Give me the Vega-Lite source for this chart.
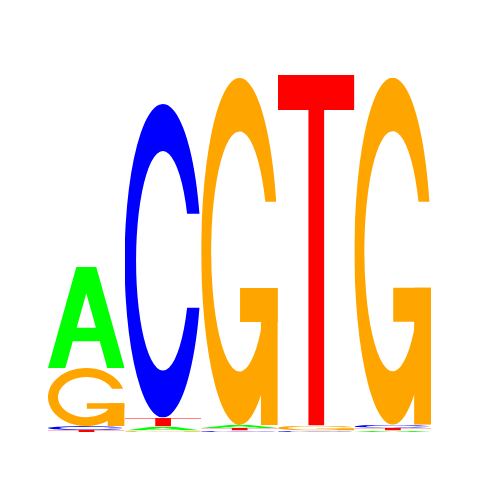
{
  "$schema": "https://vega.github.io/schema/vega-lite/v6.json",
  "description": "Sequence logo, five positions, letters stacked by information content.",
  "width": 383,
  "height": 360,
  "autosize": "none",
  "padding": {"left": 48, "top": 72, "right": 49, "bottom": 48},
  "config": {"view": {"stroke": null}},
  "data": {
    "values": [
      {"pos": 1, "letter": "T", "bits": 0.011},
      {"pos": 1, "letter": "C", "bits": 0.022},
      {"pos": 1, "letter": "G", "bits": 0.322},
      {"pos": 1, "letter": "A", "bits": 0.561},
      {"pos": 2, "letter": "G", "bits": 0.008},
      {"pos": 2, "letter": "A", "bits": 0.022},
      {"pos": 2, "letter": "T", "bits": 0.05},
      {"pos": 2, "letter": "C", "bits": 1.742},
      {"pos": 3, "letter": "C", "bits": 0.008},
      {"pos": 3, "letter": "T", "bits": 0.014},
      {"pos": 3, "letter": "A", "bits": 0.017},
      {"pos": 3, "letter": "G", "bits": 1.928},
      {"pos": 4, "letter": "C", "bits": 0.008},
      {"pos": 4, "letter": "G", "bits": 0.028},
      {"pos": 4, "letter": "T", "bits": 1.947},
      {"pos": 5, "letter": "A", "bits": 0.008},
      {"pos": 5, "letter": "T", "bits": 0.015},
      {"pos": 5, "letter": "C", "bits": 0.017},
      {"pos": 5, "letter": "G", "bits": 1.928}
    ]
  },
  "transform": [
    {
      "stack": "bits",
      "groupby": ["pos"],
      "sort": [{"field": "bits", "order": "ascending"}],
      "as": ["y0", "y1"]
    }
  ],
  "encoding": {
    "x": {
      "field": "pos",
      "type": "ordinal",
      "scale": {"type": "band", "paddingInner": 0, "paddingOuter": 0},
      "axis": null
    },
    "y": {
      "field": "y0",
      "type": "quantitative",
      "scale": {"domain": [0, 2]},
      "axis": null
    },
    "y2": {"field": "y1"}
  },
  "layer": [
    {
      "transform": [{"filter": "datum.letter === 'A'"}],
      "mark": {
        "type": "image",
        "aspect": false,
        "url": "data:image/svg+xml;utf8,<svg xmlns='http://www.w3.org/2000/svg' viewBox='0 0 100 100' preserveAspectRatio='none'><path fill='%2300FF00' fill-rule='evenodd' d='M0,100L37,0H63L100,100H77.4L67.6,73.5H32.4L22.6,100Z M50,26L62.6,60H37.4Z'/></svg>"
      }
    },
    {
      "transform": [{"filter": "datum.letter === 'C'"}],
      "mark": {
        "type": "image",
        "aspect": false,
        "url": "data:image/svg+xml;utf8,<svg xmlns='http://www.w3.org/2000/svg' viewBox='0 0 100 100' preserveAspectRatio='none'><path fill='%230000FF' d='M97.7,35A50,50 0 1 0 97.7,65L81.6,65A35,35 0 1 1 81.6,35Z'/></svg>"
      }
    },
    {
      "transform": [{"filter": "datum.letter === 'G'"}],
      "mark": {
        "type": "image",
        "aspect": false,
        "url": "data:image/svg+xml;utf8,<svg xmlns='http://www.w3.org/2000/svg' viewBox='0 0 100 100' preserveAspectRatio='none'><g fill='%23FFA500'><path d='M97.9,35.7A50,50 0 1 0 95.8,70L80.2,70A37,34.6 0 1 1 83.7,35.7Z'/><path d='M50.7,60.5H100V70.3H50.7Z'/><path d='M78,60.5H100V100H78Z'/></g></svg>"
      }
    },
    {
      "transform": [{"filter": "datum.letter === 'T'"}],
      "mark": {
        "type": "image",
        "aspect": false,
        "url": "data:image/svg+xml;utf8,<svg xmlns='http://www.w3.org/2000/svg' viewBox='0 0 100 100' preserveAspectRatio='none'><path fill='%23FF0000' d='M0,0H100V10H60.5V100H40V10H0Z'/></svg>"
      }
    }
  ]
}
